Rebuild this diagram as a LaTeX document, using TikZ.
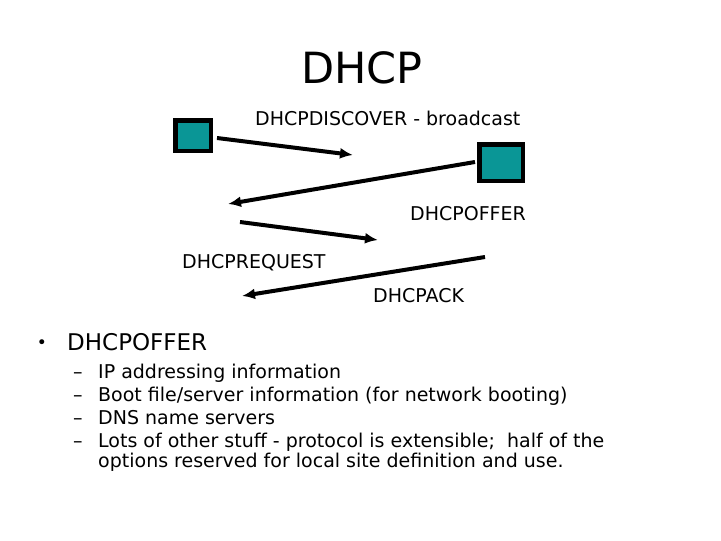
\documentclass[tikz,border=0pt]{standalone}
\usepackage{fontspec}
\setmainfont{DejaVu Sans}
\usetikzlibrary{arrows.meta}
\definecolor{hostteal}{RGB}{10,150,150}

\begin{document}
\begin{tikzpicture}[x=1pt,y=-1pt,>={Latex[length=13pt,width=11pt]}]
\tikzstyle{host}=[draw,line width=4.5pt,fill=hostteal,inner sep=0pt]
\tikzstyle{msg}=[->,line width=4pt]
\tikzstyle{lbl}=[anchor=base west,inner sep=0pt,font=\fontsize{19}{23}\selectfont]
\useasboundingbox[fill=white] (0,0) rectangle (721,541);
\node[anchor=base,inner sep=0pt,font=\fontsize{43}{50}\selectfont] (title) at (362,83) {DHCP};
% the two hosts
\node[host,minimum width=35.5pt,minimum height=30.5pt] (hostA) at (193,135.5) {};
\node[host,minimum width=43.5pt,minimum height=36.5pt] (hostB) at (501,162.5) {};
% message labels
\node[lbl] (discover) at (255,125) {DHCPDISCOVER - broadcast};
\node[lbl] (offer) at (410,220) {DHCPOFFER};
\node[lbl] (request) at (182,268) {DHCPREQUEST};
\node[lbl] (ack) at (373,302) {DHCPACK};
% message arrows
\coordinate (d1) at (217,138); \coordinate (d2) at (353,155);
\coordinate (o1) at (475,162); \coordinate (o2) at (228,204);
\coordinate (r1) at (240,222); \coordinate (r2) at (378,240);
\coordinate (k1) at (485,257); \coordinate (k2) at (242,296);
\draw[msg] (d1) -- (d2);
\draw[msg] (o1) -- (o2);
\draw[msg] (r1) -- (r2);
\draw[msg] (k1) -- (k2);
% bullet list
\node[inner sep=0pt,font=\fontsize{17}{20}\selectfont] (bullet) at (42,344) {\textbullet};
\node[anchor=base west,inner sep=0pt,font=\fontsize{23}{28}\selectfont] (head) at (67,350) {DHCPOFFER};
\foreach \y/\n in {378/1,401/2,424/3,447/4}
  \node[lbl] (dash\n) at (73,\y) {\textendash};
\node[lbl] (it1) at (98,378) {IP addressing information};
\node[lbl] (it2) at (98,401) {Boot file/server information (for network booting)};
\node[lbl] (it3) at (98,424) {DNS name servers};
\node[lbl] (it4) at (98,447) {Lots of other stuff - protocol is extensible;\ \ half of the};
\node[lbl] (it5) at (98,467) {options reserved for local site definition and use.};
\end{tikzpicture}
\end{document}
